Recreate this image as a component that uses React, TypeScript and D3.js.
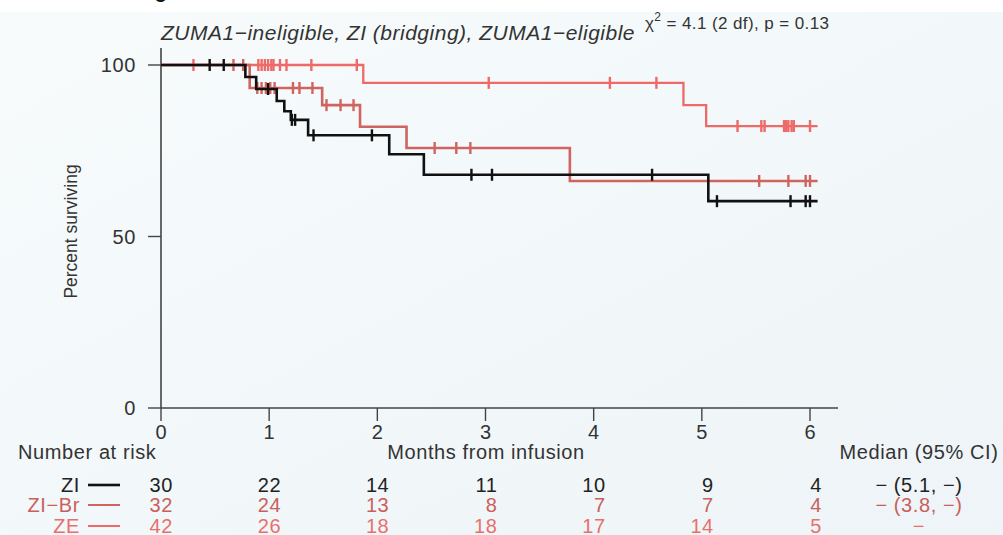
import React from 'react';
import * as d3 from 'd3';

// step curves: times where survival changes, and level after each step
const ziTimes = [0, 0.78, 0.88, 1.07, 1.14, 1.2, 1.36, 2.11, 2.43, 5.06, 6.07];
const ziSurv = [100, 96.5, 93, 89.5, 86.5, 84, 79.5, 74, 68, 60.3, 60.3];
const ziCensor = [0.45, 0.58, 0.99, 1.21, 1.24, 1.41, 1.95, 2.87, 3.06, 4.54, 5.14, 5.82, 5.96, 6.0];

const brTimes = [0, 0.82, 1.49, 1.84, 2.27, 3.78, 6.07];
const brSurv = [100, 93.3, 88.3, 82, 75.8, 66.2, 66.2];
const brCensor = [0.67, 0.76, 0.89, 0.93, 0.97, 1.01, 1.05, 1.22, 1.28, 1.4, 1.53, 1.66, 1.78, 2.53, 2.73, 2.86, 5.53, 5.8, 5.96, 6.0];

const zeTimes = [0, 1.87, 4.83, 5.04, 6.07];
const zeSurv = [100, 94.8, 88.3, 82.2, 82.2];
const zeCensor = [0.3, 0.9, 0.93, 0.96, 0.99, 1.02, 1.04, 1.1, 1.16, 1.39, 1.81, 3.03, 4.15, 4.58, 5.33, 5.55, 5.58, 5.76, 5.78, 5.8, 5.83, 5.85, 6.0];

const riskTimes = [0, 1, 2, 3, 4, 5, 6];
const groupNames = ['ZI', 'ZI\u2212Br', 'ZE'];
const ziRisk = [30, 22, 14, 11, 10, 9, 4];
const brRisk = [32, 24, 13, 8, 7, 7, 4];
const zeRisk = [42, 26, 18, 18, 17, 14, 5];
const medians = ['\u2212 (5.1, \u2212)', '\u2212 (3.8, \u2212)', '\u2212'];

const yTicks = [0, 50, 100];
const xTicks = [0, 1, 2, 3, 4, 5, 6];

const W = 1003;
const H = 535;
const font = '"Liberation Sans", Arial, sans-serif';
const textCol = '#333';
const fs = 20;
const ls = 0.6;

const x = d3.scaleLinear().domain([0, 6]).range([161, 810]);
const y = d3.scaleLinear().domain([0, 100]).range([408, 65]);

const stepLine = d3
  .line<[number, number]>()
  .x(d => x(d[0]))
  .y(d => y(d[1]))
  .curve(d3.curveStepAfter);

const levelAt = (times: number[], surv: number[], t: number) => {
  let v = surv[0];
  for (let i = 0; i < times.length; i++) if (times[i] <= t) v = surv[i];
  return v;
};

const groups = [
  { times: ziTimes, surv: ziSurv, censor: ziCensor, risk: ziRisk, color: '#111111', width: 2.6 },
  { times: brTimes, surv: brSurv, censor: brCensor, risk: brRisk, color: '#cf6460', width: 2.6 },
  { times: zeTimes, surv: zeSurv, censor: zeCensor, risk: zeRisk, color: '#ee6a68', width: 2.3 },
];

const Curve = ({ g }: { g: typeof groups[number] }) => {
  const pts = g.times.map((t, i) => [t, g.surv[i]] as [number, number]);
  return (
    <g>
      <path d={stepLine(pts) || ''} fill="none" stroke={g.color} strokeWidth={g.width} />
      {g.censor.map((t, i) => {
        const cy = y(levelAt(g.times, g.surv, t));
        return (
          <line key={i} x1={x(t)} x2={x(t)} y1={cy - 6} y2={cy + 6} stroke={g.color} strokeWidth={2.4} />
        );
      })}
    </g>
  );
};

export default function App() {
  const rowY = [492, 512, 533];
  const textColors = ['#222', '#c9605c', '#e8706c'];
  return (
    <svg width={W} height={H} style={{ position: 'absolute', left: 0, top: 0 }} fontFamily={font}>
      <defs>
        <linearGradient id="bg" x1="0" y1="0" x2="1" y2="1">
          <stop offset="0" stopColor="#f7fbfc" />
          <stop offset="1" stopColor="#eef4f7" />
        </linearGradient>
      </defs>
      <rect width={W} height={H} fill="url(#bg)" />
      <rect x={0} y={0} width={W} height={12} fill="#ffffff" />
      <text x={167} y={-2} fontSize={20} fontWeight="bold" textAnchor="end" fill="#111">
        g
      </text>

      <text x={161} y={40} fontSize={21} fontStyle="italic" letterSpacing={0.5} fill={textCol}>
        ZUMA1{'\u2212'}ineligible, ZI (bridging), ZUMA1{'\u2212'}eligible
      </text>
      <text x={645} y={29} fontSize={17} letterSpacing={0.4} fill={textCol}>
        <tspan>χ</tspan>
        <tspan dy={-8} fontSize={12}>2</tspan>
        <tspan dy={8}> = 4.1 (2 df), p = 0.13</tspan>
      </text>

      {/* axes */}
      <line x1={161} x2={161} y1={48} y2={408} stroke="#444" strokeWidth={1.6} />
      <line x1={161} x2={838} y1={408} y2={408} stroke="#444" strokeWidth={1.6} />
      {yTicks.map(v => (
        <g key={v}>
          <line x1={148} x2={161} y1={y(v)} y2={y(v)} stroke="#444" strokeWidth={1.4} />
          <text x={136} y={y(v) + 7} fontSize={fs} letterSpacing={ls} textAnchor="end" fill={textCol}>
            {v}
          </text>
        </g>
      ))}
      {xTicks.map(t => (
        <g key={t}>
          <line x1={x(t)} x2={x(t)} y1={408} y2={421} stroke="#444" strokeWidth={1.4} />
          <text x={x(t)} y={439} fontSize={fs} textAnchor="middle" fill={textCol}>
            {t}
          </text>
        </g>
      ))}
      <text
        transform={`translate(77,${y(50) - 5}) rotate(-90)`}
        fontSize={17.5}
        textAnchor="middle"
        fill={textCol}
      >
        Percent surviving
      </text>

      {[...groups].reverse().map((g, i) => (
        <Curve key={i} g={g} />
      ))}

      {/* risk table */}
      <text x={18} y={459} fontSize={fs} letterSpacing={ls} fill={textCol}>
        Number at risk
      </text>
      <text x={486} y={459} fontSize={fs} letterSpacing={ls} textAnchor="middle" fill={textCol}>
        Months from infusion
      </text>
      <text x={919} y={459} fontSize={fs} letterSpacing={ls} textAnchor="middle" fill={textCol}>
        Median (95% CI)
      </text>
      {groups.map((g, i) => (
        <g key={i}>
          <text x={80} y={rowY[i]} fontSize={fs} letterSpacing={ls} textAnchor="end" fill={textColors[i]}>
            {groupNames[i]}
          </text>
          <line x1={88} x2={120} y1={rowY[i] - 7} y2={rowY[i] - 7} stroke={g.color} strokeWidth={i === 0 ? 2.6 : 2} />
          {g.risk.map((n, j) => (
            <text key={j} x={x(riskTimes[j]) + 12} y={rowY[i]} fontSize={fs} letterSpacing={ls} textAnchor="end" fill={textColors[i]}>
              {n}
            </text>
          ))}
          <text x={919} y={rowY[i]} fontSize={fs} letterSpacing={ls} textAnchor="middle" fill={textColors[i]}>
            {medians[i]}
          </text>
        </g>
      ))}
    </svg>
  );
}
